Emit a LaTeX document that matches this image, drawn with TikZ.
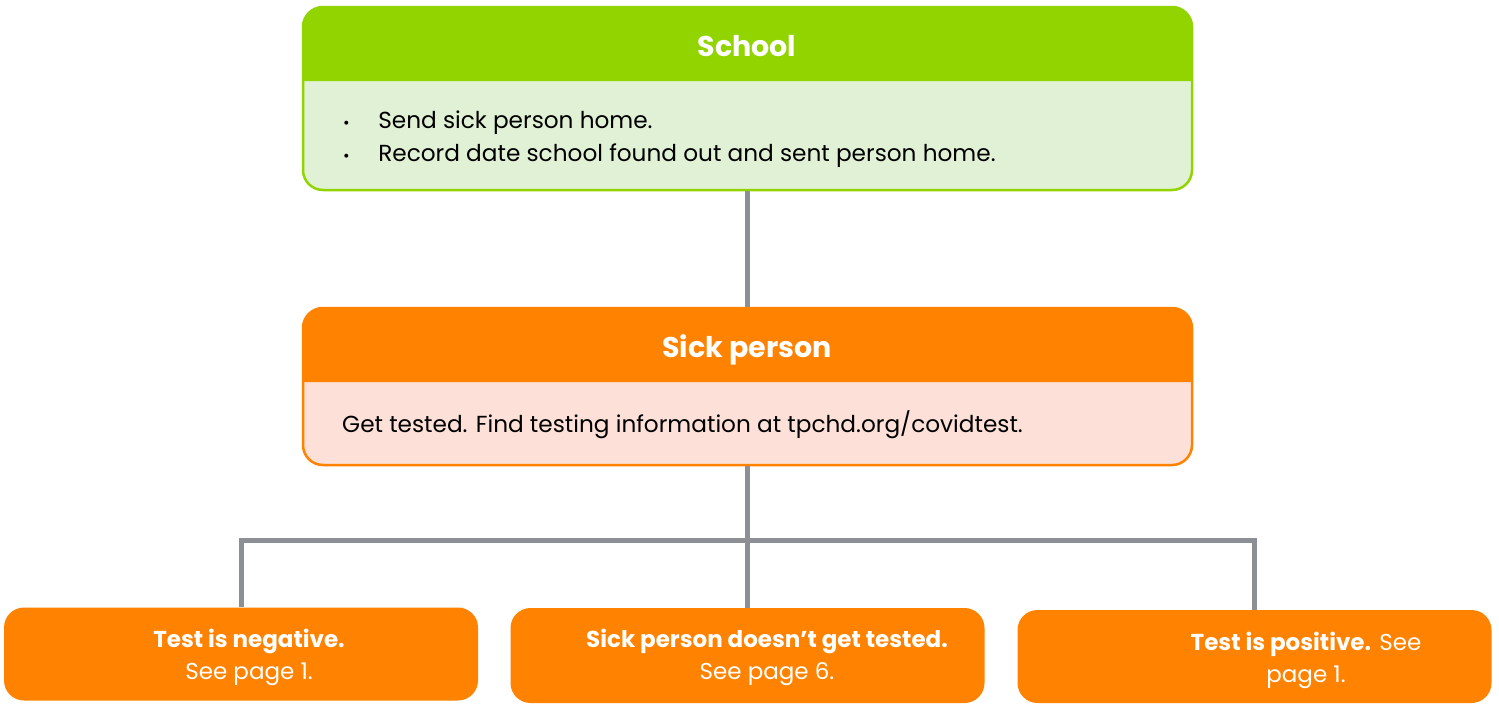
\documentclass[tikz,border=0pt]{standalone}
\usepackage{fontspec}
\setmainfont{Poppins}
\definecolor{hgreen}{HTML}{92D400}
\definecolor{lgreen}{HTML}{E1F1D5}
\definecolor{horange}{HTML}{FF8300}
\definecolor{lpink}{HTML}{FDE0D7}
\definecolor{lgrey}{HTML}{8C8F93}
\tikzset{
  bigbox/.style={rounded corners=20pt, line width=2.5pt, minimum width=889pt, inner sep=0pt},
  smallbox/.style={rounded corners=20pt, fill=horange, minimum width=474pt, minimum height=93pt, inner sep=0pt},
  conn/.style={draw=lgrey, line width=5pt},
  headtxt/.style={text=white, font=\fontsize{28.5}{32}\selectfont\bfseries, anchor=base, inner sep=0pt},
  bodytxt/.style={text=black, font=\fontsize{23.2}{33}\selectfont, anchor=west, align=left, inner sep=0pt},
  smalltxt/.style={text=white, font=\fontsize{23}{32}\selectfont, align=center, inner sep=0pt}
}
\begin{document}
\begin{tikzpicture}[x=1pt,y=-1pt]
\useasboundingbox (0,0) rectangle (1499,704);
\coordinate (hj) at (747.5,540);
% School
\node[bigbox, fill=lgreen, draw=hgreen, minimum height=183pt] (school) at (747.5,98.5) {};
\fill[hgreen] (303,81) [rounded corners=20pt] -- (303,7) -- (1192,7) [sharp corners] -- (1192,81) -- cycle;
\node[headtxt] (schoolhead) at (747,56) {School};
\node[bodytxt] (schoolbody) at (343,139) {{\fontsize{16}{16}\selectfont\textbullet}\hspace{28.5pt}Send sick person home.\\{\fontsize{16}{16}\selectfont\textbullet}\hspace{28.5pt}Record date school found out and sent person home.};
% Sick person
\node[bigbox, fill=lpink, draw=horange, minimum height=157pt] (sick) at (747.5,386.5) {};
\fill[horange] (303,382) [rounded corners=20pt] -- (303,308) -- (1192,308) [sharp corners] -- (1192,382) -- cycle;
\node[headtxt] (sickhead) at (747,357) {Sick person};
\node[bodytxt] (sickbody) at (342,425) {Get tested. Find testing information at tpchd.org/covidtest.};
% bottom boxes
\node[smallbox] (neg) at (241,654) {};
\node[smallbox, minimum height=95pt] (not) at (747.5,655.5) {};
\node[smallbox, minimum height=93pt] (pos) at (1254.5,656.5) {};
\node[smalltxt] (negtxt) at (249,657) {\textbf{Test is negative.}\\See page 1.};
\node[smalltxt] (nottxt) at (767,657) {\textbf{Sick person doesn’t get tested.}\\See page 6.};
\node[smalltxt] (postxt) at (1306,660) {\textbf{Test is positive.} See\\page 1.};
% lines
\draw[conn] (school.south) -- (sick.north);
\draw[conn] (sick.south) -- (hj);
\draw[conn] (hj) -- (not.north);
\draw[conn] (neg.north) |- (hj) -| (pos.north);
\end{tikzpicture}
\end{document}
